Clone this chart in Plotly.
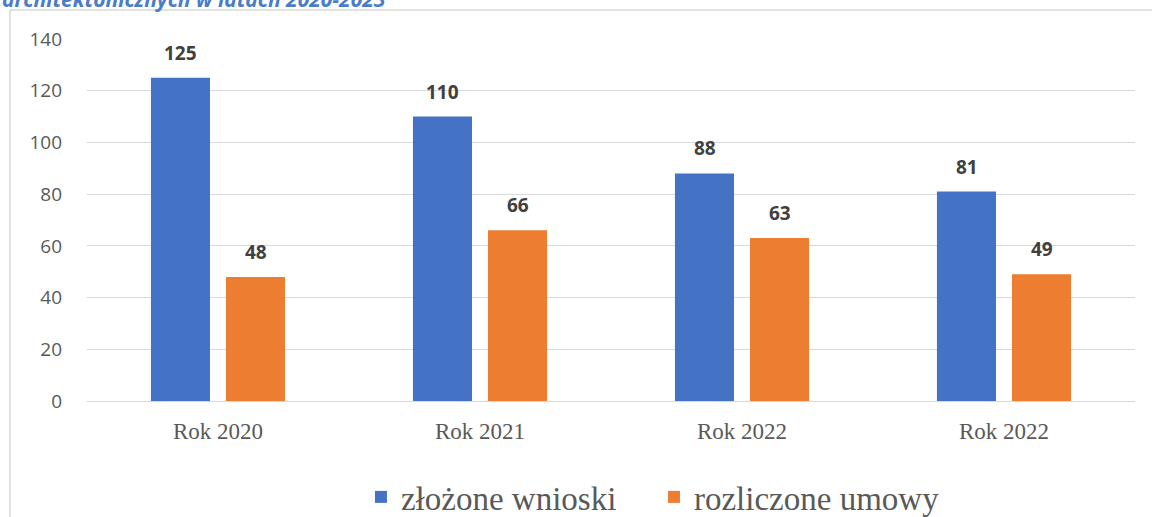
import plotly.graph_objects as go

# dane
positions = [0, 1, 2, 3]
categories = ["Rok 2020", "Rok 2021", "Rok 2022", "Rok 2022"]
zlozone = [125, 110, 88, 81]
rozliczone = [48, 66, 63, 49]
y_ticks = [0, 20, 40, 60, 80, 100, 120, 140]

BLUE = "#4472C4"
ORANGE = "#ED7D31"
GRID = "#D9D9D9"
SERIF = "Liberation Serif, Times New Roman, serif"

fig = go.Figure()
fig.add_trace(go.Bar(x=positions, y=zlozone, name="złożone wnioski",
                     marker=dict(color=BLUE, line=dict(width=0))))
fig.add_trace(go.Bar(x=positions, y=rozliczone, name="rozliczone umowy",
                     marker=dict(color=ORANGE, line=dict(width=0))))

# etykiety danych nad słupkami
for i in positions:
    for vals, shift in ((zlozone, -37.5), (rozliczone, 37.5)):
        fig.add_annotation(x=i, y=vals[i], text="<b>%d</b>" % vals[i],
                           xshift=shift, yshift=10, yanchor="bottom",
                           showarrow=False,
                           font=dict(family="Open Sans", size=19, color="#404040"))

# ucięty tytuł nad wykresem
fig.add_annotation(x=-0.083, y=1.066, xref="paper", yref="paper",
                   xanchor="left", yanchor="bottom", showarrow=False,
                   text="<b><i>architektonicznych w latach 2020-2023</i></b>",
                   font=dict(family="Open Sans", size=21, color="#4A7CC8"))

# ramka obszaru wykresu (lewa i górna krawędź)
fig.add_shape(type="line", xref="paper", yref="paper",
              x0=-0.0735, x1=-0.0735, y0=1.08, y1=-0.35,
              line=dict(color=GRID, width=1.5))
fig.add_shape(type="line", xref="paper", yref="paper",
              x0=-0.0735, x1=1.03, y0=1.08, y1=1.08,
              line=dict(color=GRID, width=1.5))

fig.update_layout(
    width=1152, height=517,
    barmode="group", bargap=0.427, bargroupgap=0.213,
    plot_bgcolor="white", paper_bgcolor="white",
    margin=dict(l=87, r=17, t=39, b=116, autoexpand=False),
    showlegend=True,
    legend=dict(orientation="h", x=0.541, xanchor="center",
                y=-0.265, yanchor="middle",
                font=dict(family=SERIF, size=33, color="#595959"),
                entrywidth=248, entrywidthmode="pixels"),
    xaxis=dict(tickvals=positions, ticktext=categories, range=[-0.5, 3.5],
               showgrid=False, showline=False, ticks="", ticklabelstandoff=14,
               tickfont=dict(family=SERIF, size=23, color="#595959")),
    yaxis=dict(range=[0, 140], tickvals=y_ticks, showgrid=True,
               gridcolor=GRID, gridwidth=1, zeroline=True, zerolinecolor=GRID,
               zerolinewidth=1, ticks="", ticklabelstandoff=24,
               tickfont=dict(family="Open Sans", size=19, color="#595959")),
)

# bez domyślnego marginesu strony, żeby wykres zaczynał się w rogu okna
fig.write_html("out.html", config={"displayModeBar": False},
               post_script="document.body.style.margin='0';")
